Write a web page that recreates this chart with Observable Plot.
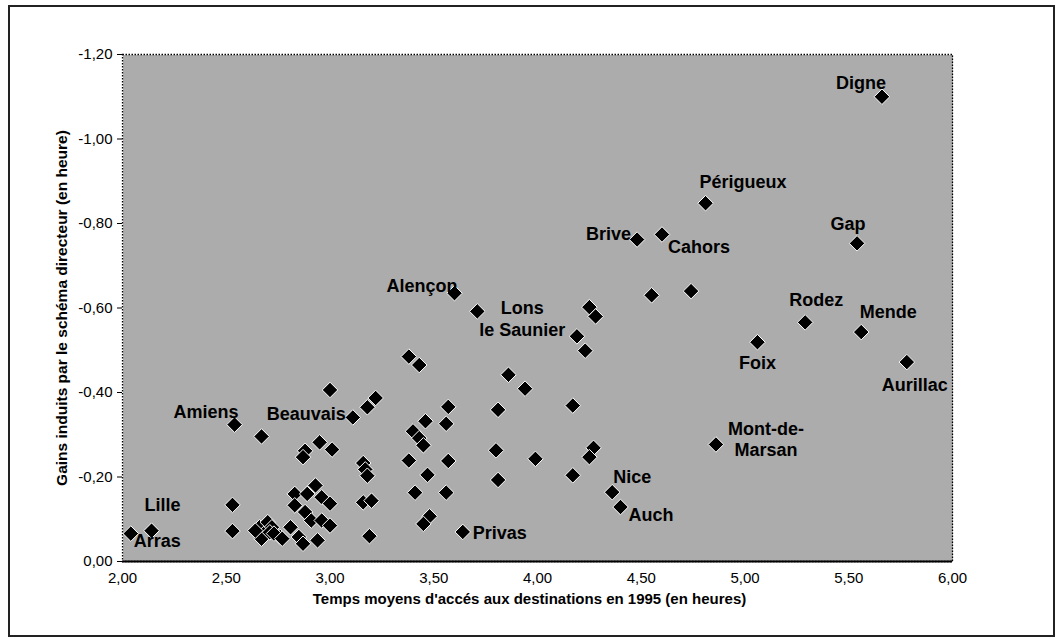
<!DOCTYPE html>
<html><head><meta charset="utf-8">
<script src="https://cdn.jsdelivr.net/npm/d3@7"></script>
<script src="https://cdn.jsdelivr.net/npm/@observablehq/plot@0.6"></script>
<style>
body{margin:0;background:#fff;}
#wrap{position:relative;width:1058px;height:639px;overflow:hidden;}
#border{position:absolute;left:8px;top:5px;width:1043px;height:628px;border:2px solid #222;pointer-events:none;}
</style></head><body><div id="wrap"><div id="border"></div></div>
<script>
// ---- data ----
const xTicks = [2, 2.5, 3, 3.5, 4, 4.5, 5, 5.5, 6];
const yTicks = [0, -0.2, -0.4, -0.6, -0.8, -1.0, -1.2];
const xTitle = "Temps moyens d'accés aux destinations en 1995 (en heures)";
const yTitle = "Gains induits par le schéma directeur (en heure)";

const labeledNames = ["Digne","Périgueux","Brive","Cahors","Gap","Rodez","Mende","Foix","Aurillac","Mont-de-\nMarsan","Nice","Auch","Privas","Alençon","Lons\nle Saunier","Amiens","Beauvais","Lille","Arras"];
const labeledTimes = [5.66,4.81,4.48,4.60,5.54,5.29,5.56,5.06,5.78,4.86,4.36,4.40,3.64,3.60,3.71,2.54,3.11,2.14,2.04];
const labeledGains = [-1.10,-0.848,-0.762,-0.774,-0.753,-0.566,-0.543,-0.519,-0.472,-0.277,-0.164,-0.129,-0.070,-0.635,-0.592,-0.324,-0.341,-0.073,-0.066];

const otherTimes = [4.55,4.74,4.25,4.28,4.19,4.23,3.86,3.94,4.17,4.27,4.25,3.99,4.17,3.38,3.43,3.00,3.22,3.18,3.57,3.56,3.81,3.46,3.40,3.43,3.45,3.80,3.57,3.38,3.47,3.81,3.41,3.56,3.48,3.45,3.19,3.16,3.17,3.18,3.16,3.20,2.95,3.01,2.88,2.87,2.67,2.53,2.53,2.66,2.70,2.72,2.68,2.76,2.67,2.71,2.64,2.73,2.83,2.83,2.93,2.89,2.96,3.00,2.88,2.91,2.96,3.00,2.81,2.85,2.87,2.94,2.77];
const otherGains = [-0.630,-0.640,-0.602,-0.580,-0.533,-0.499,-0.442,-0.409,-0.369,-0.269,-0.247,-0.243,-0.204,-0.485,-0.465,-0.406,-0.387,-0.365,-0.366,-0.326,-0.359,-0.332,-0.308,-0.292,-0.275,-0.263,-0.238,-0.239,-0.205,-0.193,-0.163,-0.163,-0.107,-0.089,-0.060,-0.233,-0.218,-0.203,-0.140,-0.144,-0.282,-0.265,-0.262,-0.247,-0.296,-0.134,-0.072,-0.081,-0.093,-0.081,-0.065,-0.058,-0.054,-0.069,-0.073,-0.066,-0.160,-0.133,-0.180,-0.160,-0.152,-0.137,-0.117,-0.097,-0.097,-0.085,-0.081,-0.058,-0.042,-0.050,-0.054];

// label placement (style): [textAnchor, dx, dy]
const placement = {
  "Digne":["middle",-21,-15], "Périgueux":["start",-6,-22], "Brive":["end",-6,-7],
  "Cahors":["start",6,11], "Gap":["middle",-9,-20], "Rodez":["middle",11,-23],
  "Mende":["middle",27,-21], "Foix":["middle",0,20], "Aurillac":["middle",8,22],
  "Mont-de-\nMarsan":["middle",50,-6], "Nice":["middle",20,-16], "Auch":["start",8,7],
  "Privas":["start",10,0], "Alençon":["end",3,-8], "Lons\nle Saunier":["middle",45,7],
  "Amiens":["end",4,-14], "Beauvais":["end",-7,-4], "Lille":["middle",11,-27], "Arras":["start",3,6]
};

// ---- build ----
const points = otherTimes.map((t, i) => ({t, g: otherGains[i]}))
  .concat(labeledTimes.map((t, i) => ({t, g: labeledGains[i]})));
const labeled = labeledNames.map((name, i) => ({name, t: labeledTimes[i], g: labeledGains[i]}));

const fmt = d => Math.abs(d) < 1e-9 ? "0,00" : d.toFixed(2).replace(".", ",");
const diamond = {draw(ctx, size) {
  const r = Math.sqrt(size) * 0.62625;
  ctx.moveTo(0, -r); ctx.lineTo(r, 0); ctx.lineTo(0, r); ctx.lineTo(-r, 0); ctx.closePath();
}};
const font = "Liberation Sans, Arial, sans-serif";

const labelMarks = labeled.map(d => {
  const [anchor, dx, dy] = placement[d.name];
  return Plot.text([d], {x: "t", y: "g", text: "name", textAnchor: anchor, dx, dy,
    fontSize: 18, fontWeight: "bold", fill: "black", lineHeight: 1.22});
});

const chart = Plot.plot({
  width: 1058, height: 639,
  marginLeft: 122, marginRight: 106, marginTop: 54, marginBottom: 78,
  style: {fontFamily: font, fontSize: "15px", background: "transparent", color: "black"},
  x: {domain: [2, 6]},
  y: {domain: [0, -1.2]},
  marks: [
    Plot.frame({fill: "#bdbdbe", stroke: null}),
    Plot.frame({stroke: "black", strokeDasharray: "1.5,1.5", strokeWidth: 1.3}),
    Plot.ruleY([0], {stroke: "black", strokeWidth: 2}),
    Plot.axisX({ticks: xTicks, tickFormat: fmt, tickSize: 0, tickPadding: 11, fontSize: 15, label: null}),
    Plot.axisY({ticks: yTicks, tickFormat: fmt, tickSize: 5, tickPadding: 5, fontSize: 15, label: null}),
    Plot.dot(points, {x: "t", y: "g", symbol: diamond, r: 7, fill: "black", stroke: "white", strokeWidth: 1}),
    ...labelMarks,
    Plot.text([xTitle], {text: d => d, frameAnchor: "bottom", lineAnchor: "middle", textAnchor: "middle", dx: -8, dy: 38, fontSize: 15, fontWeight: "bold"}),
    Plot.text([yTitle], {text: d => d, frameAnchor: "left", lineAnchor: "middle", textAnchor: "middle", dx: -60, dy: 0, rotate: -90, fontSize: 15.5, fontWeight: "bold"})
  ]
});

// dithered background pattern
const ns = "http://www.w3.org/2000/svg";
const defs = document.createElementNS(ns, "defs");
defs.innerHTML = '<pattern id="dither" width="2" height="2" patternUnits="userSpaceOnUse">' +
  '<rect width="2" height="2" fill="#ffffff"/><rect width="1" height="1" fill="#5a5a5a"/>' +
  '<rect x="1" y="1" width="1" height="1" fill="#5a5a5a"/></pattern>';
chart.insertBefore(defs, chart.firstChild);
chart.querySelectorAll('[fill="#bdbdbe"]').forEach(el => { el.setAttribute("fill", "url(#dither)"); el.setAttribute("shape-rendering", "crispEdges"); });
// tick labels at 15px
chart.querySelectorAll("text").forEach(t => {
  if (/^-?\d,\d\d$/.test(t.textContent.trim())) t.style.fontSize = "15px";
});
chart.style.position = "absolute"; chart.style.left = "0"; chart.style.top = "0";
document.getElementById("wrap").appendChild(chart);
</script></body></html>
